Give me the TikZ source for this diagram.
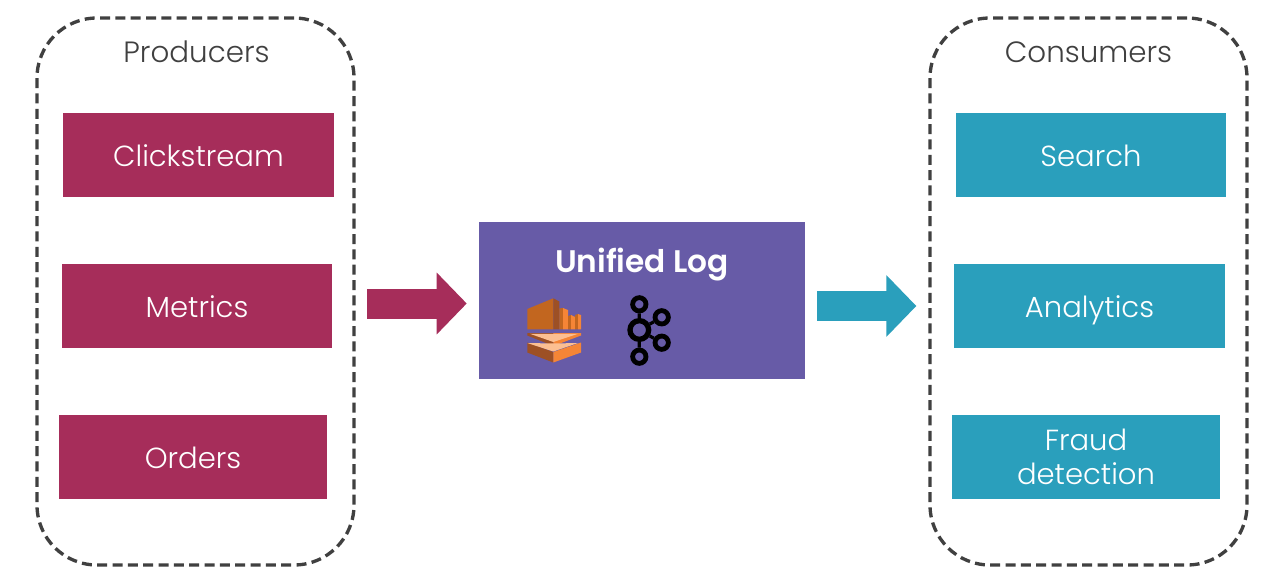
\documentclass[tikz,border=0pt]{standalone}
\usepackage{fontspec}
\setmainfont{Poppins Light}
\newfontfamily\boldf{Poppins SemiBold}
\usetikzlibrary{arrows.meta}
\definecolor{maroon}{HTML}{A62D5A}
\definecolor{teal2}{HTML}{2A9FBC}
\definecolor{purp}{HTML}{675BA7}
\definecolor{dk}{HTML}{404040}
\definecolor{or1}{HTML}{C2661F}
\definecolor{or2}{HTML}{F58536}
\definecolor{or3}{HTML}{9D5025}
\definecolor{or4}{HTML}{FCBF92}
\tikzset{
 x=0.75pt,y=-0.75pt,
 groupbox/.style={draw=dk,line width=2.5pt,dash pattern=on 7.5pt off 4pt,rounded corners=45pt,minimum width=237.75pt,minimum height=410.25pt,inner sep=0pt},
 itembox/.style={minimum height=63pt,inner sep=0pt,text=white,font=\fontsize{21.8}{26}\selectfont,align=center},
 prod/.style={itembox,fill=maroon,text height=17.5pt,text depth=0pt},
 cons/.style={itembox,fill=teal2},
 one/.style={text height=17.5pt,text depth=0pt},
 title/.style={text=dk,font=\fontsize{22}{24}\selectfont,inner sep=0pt,text height=16pt,text depth=0pt},
 ring/.style={draw=black,line width=3.6pt,circle,inner sep=0pt,minimum size=10pt},
 flow/.style={line width=22.5pt,-{Triangle[length=22.5pt,width=45pt]}},
}
\begin{document}
\begin{tikzpicture}
\useasboundingbox (0,0) rectangle (1280,585);
\fill[white] (0,0) rectangle (1280,585);
\node[groupbox] (pg) at (195.5,291.5) {};
\node[groupbox] (cg) at (1088.5,291.5) {};
\node[title] (pt) at (196.5,51.5) {Producers};
\node[title] (ct) at (1088.5,51.5) {Consumers};
\node[prod,minimum width=203.25pt] (click) at (198.5,155) {Clickstream};
\node[prod,minimum width=202.5pt] (metrics) at (197,306) {Metrics};
\node[prod,minimum width=201pt] (orders) at (193,457) {Orders};
\node[cons,one,minimum width=202.5pt] (search) at (1091,155) {Search};
\node[cons,one,minimum width=203.25pt] (analytics) at (1089.5,306) {Analytics};
\node[cons,minimum width=201pt] (fraud) at (1086,457) {Fraud\\detection};
\node[fill=purp,minimum width=244.5pt,minimum height=117.75pt,inner sep=0pt] (log) at (642,300.5) {};
\node[text=white,inner sep=0pt,text height=16pt,text depth=0pt,font=\boldf\fontsize{23.4}{26}\selectfont] (logt) at (642,261.5) {Unified Log};
\draw[flow,maroon,shorten <=8.75pt,shorten >=9pt] (pg.east |- 0,303.5) -- (log.west |- 0,303.5);
\draw[flow,teal2,shorten >=9pt,shorten <=9pt] (log.east |- 0,306) -- (cg.west |- 0,306);
% Kinesis icon
\fill[or1] (527.3,309) -- (553.3,298.3) -- (553.3,329.3) -- (527.3,329.3) -- cycle;
\fill[or3] (553.3,298.3) -- (559.3,301.5) -- (559.3,329.3) -- (553.3,329.3) -- cycle;
\fill[or1] (559.3,308.5) -- (563,308) -- (563,329.3) -- (559.3,329.3) -- cycle;
\fill[or2] (563,308) -- (568,310) -- (568,329.3) -- (563,329.3) -- cycle;
\fill[or1] (568,316) -- (571,315) -- (571,329.3) -- (568,329.3) -- cycle;
\fill[or2] (571,315) -- (575,317) -- (575,329.3) -- (571,329.3) -- cycle;
\fill[or1] (575,315) -- (578,314) -- (578,329.3) -- (575,329.3) -- cycle;
\fill[or2] (578,314) -- (581,315) -- (581,329.3) -- (578,329.3) -- cycle;
\fill[or3] (527.3,333) -- (553.3,333) -- (553.3,346) -- (527.3,335.5) -- cycle;
\fill[or2] (553.3,333) -- (581,333) -- (581,335.5) -- (553.3,346) -- cycle;
\fill[or4] (530,333.8) -- (578,333.8) -- (553.3,342) -- cycle;
\fill[or3] (527.3,342.5) -- (553.3,352) -- (553.3,362.5) -- (527.3,352.5) -- cycle;
\fill[or2] (581,342.5) -- (553.3,352) -- (553.3,362.5) -- (581,352.5) -- cycle;
\fill[or4] (527.3,343) -- (553.3,343.5) -- (578,343) -- (553.3,351.5) -- cycle;
% Kafka icon
\node[ring,minimum size=14pt,line width=4pt] (kc) at (639.3,330) {};
\node[ring] (kt) at (639.3,304.3) {};
\node[ring] (kb) at (639.3,356.7) {};
\node[ring] (kr1) at (661.7,317.3) {};
\node[ring] (kr2) at (661.7,342.7) {};
\draw[black,line width=2.4pt] (kc) -- (kt) (kc) -- (kb) (kc) -- (kr1) (kc) -- (kr2);
\end{tikzpicture}
\end{document}
